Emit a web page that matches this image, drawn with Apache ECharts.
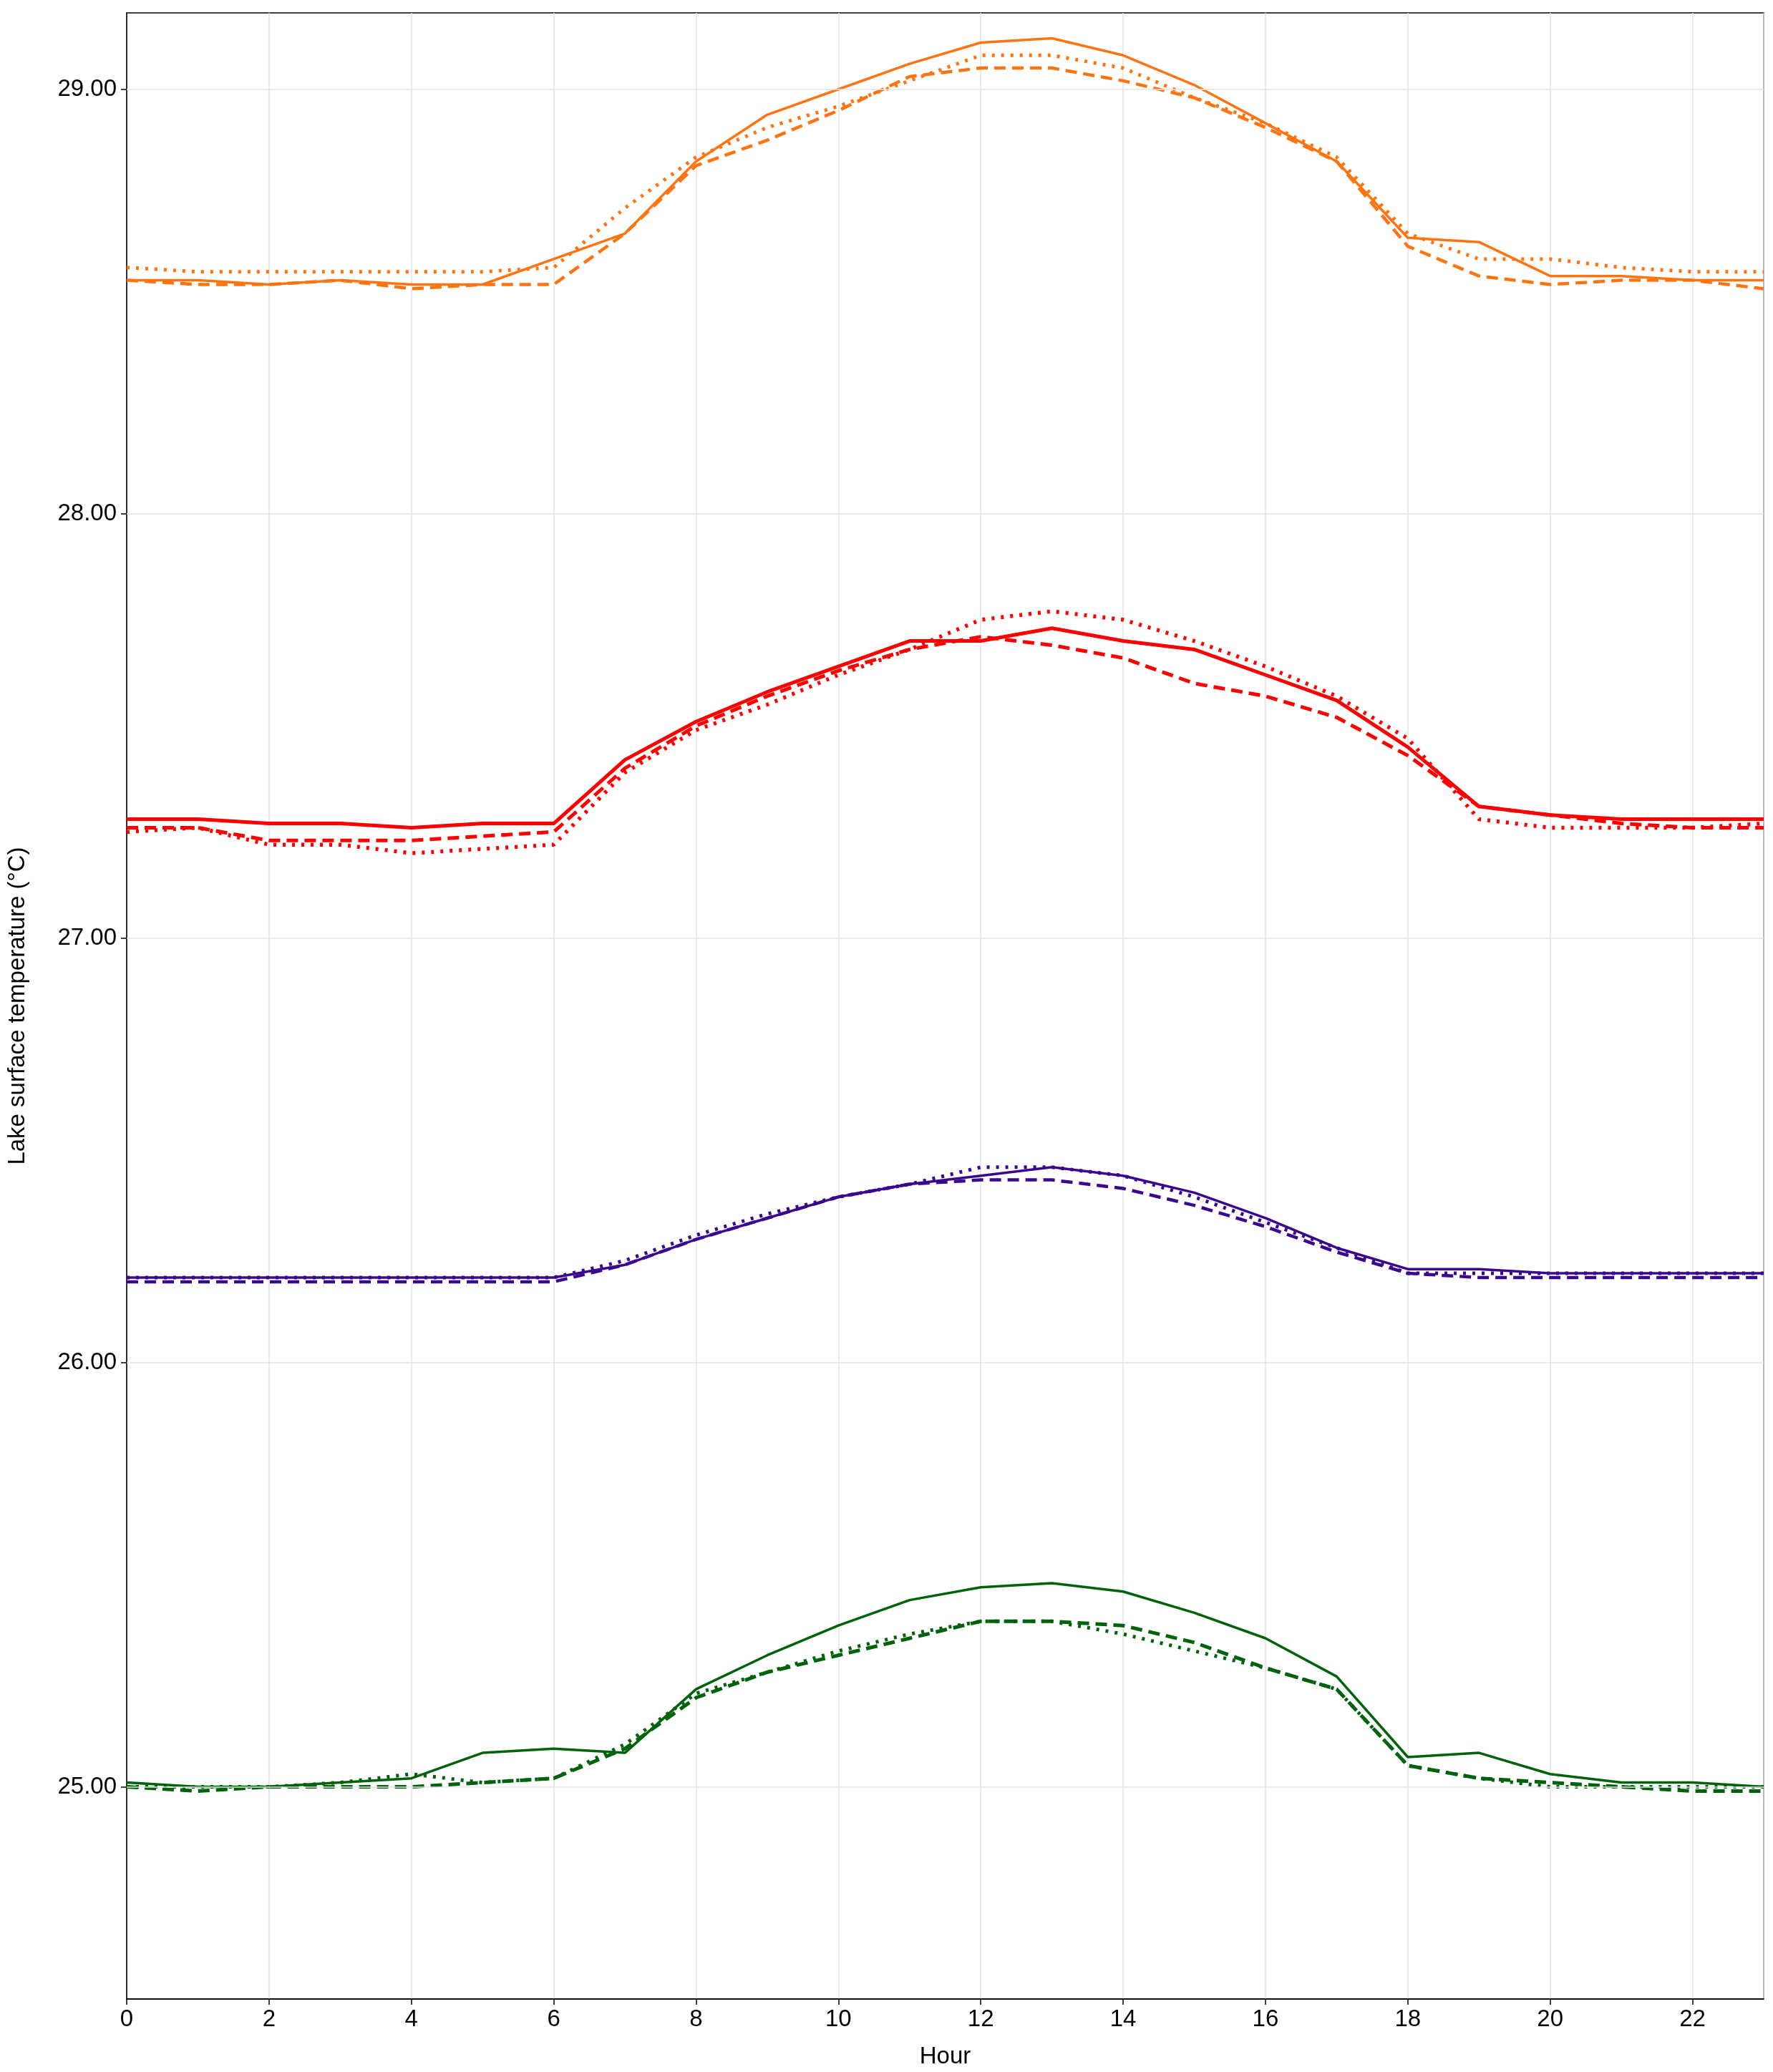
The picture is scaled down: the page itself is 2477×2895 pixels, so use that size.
<!DOCTYPE html>
<html><head><meta charset="utf-8">
<script src="https://cdn.jsdelivr.net/npm/echarts@6/dist/echarts.min.js"></script>
<style>html,body{margin:0;padding:0;background:#fff}#c{width:2477px;height:2895px}</style>
</head><body><div id="c"></div>
<script>
const hours = [0,1,2,3,4,5,6,7,8,9,10,11,12,13,14,15,16,17,18,19,20,21,22,23];
const yTicks = [25,26,27,28,29];
const orangeSolid = [28.55,28.55,28.54,28.55,28.54,28.54,28.60,28.66,28.83,28.94,29.00,29.06,29.11,29.12,29.08,29.01,28.92,28.83,28.65,28.64,28.56,28.56,28.55,28.55];
const orangeDashed = [28.55,28.54,28.54,28.55,28.53,28.54,28.54,28.66,28.82,28.88,28.95,29.03,29.05,29.05,29.02,28.98,28.91,28.83,28.63,28.56,28.54,28.55,28.55,28.53];
const orangeDotted = [28.58,28.57,28.57,28.57,28.57,28.57,28.58,28.72,28.84,28.91,28.96,29.02,29.08,29.08,29.05,28.98,28.92,28.84,28.66,28.60,28.60,28.58,28.57,28.57];
const redSolid = [27.28,27.28,27.27,27.27,27.26,27.27,27.27,27.42,27.51,27.58,27.64,27.70,27.70,27.73,27.70,27.68,27.62,27.56,27.45,27.31,27.29,27.28,27.28,27.28];
const redDashed = [27.26,27.26,27.23,27.23,27.23,27.24,27.25,27.40,27.50,27.57,27.63,27.68,27.71,27.69,27.66,27.60,27.57,27.52,27.43,27.31,27.29,27.27,27.26,27.26];
const redDotted = [27.25,27.26,27.22,27.22,27.20,27.21,27.22,27.39,27.49,27.55,27.62,27.68,27.75,27.77,27.75,27.70,27.64,27.57,27.47,27.28,27.26,27.26,27.26,27.27];
const purpleSolid = [26.20,26.20,26.20,26.20,26.20,26.20,26.20,26.23,26.29,26.34,26.39,26.42,26.44,26.46,26.44,26.40,26.34,26.27,26.22,26.22,26.21,26.21,26.21,26.21];
const purpleDashed = [26.19,26.19,26.19,26.19,26.19,26.19,26.19,26.23,26.29,26.34,26.39,26.42,26.43,26.43,26.41,26.37,26.32,26.26,26.21,26.20,26.20,26.20,26.20,26.20];
const purpleDotted = [26.20,26.20,26.20,26.20,26.20,26.20,26.20,26.24,26.30,26.35,26.39,26.42,26.46,26.46,26.44,26.39,26.33,26.27,26.21,26.21,26.21,26.21,26.21,26.21];
const greenSolid = [25.01,25.00,25.00,25.01,25.02,25.08,25.09,25.08,25.23,25.31,25.38,25.44,25.47,25.48,25.46,25.41,25.35,25.26,25.07,25.08,25.03,25.01,25.01,25.00];
const greenDashed = [25.00,24.99,25.00,25.00,25.00,25.01,25.02,25.09,25.21,25.27,25.31,25.35,25.39,25.39,25.38,25.34,25.28,25.23,25.05,25.02,25.01,25.00,24.99,24.99];
const greenDotted = [25.00,25.00,25.00,25.01,25.03,25.01,25.02,25.10,25.22,25.27,25.32,25.36,25.39,25.39,25.36,25.32,25.28,25.23,25.05,25.02,25.00,25.00,25.00,25.00];

const colors = {orange:'#ff7410', red:'#ff0000', purple:'#3a0890', green:'#00620a'};
function mk(data,color,style,w){
  let type = 'solid';
  if(style==='dashed') type=[16,9];
  if(style==='dotted') type=[4,9];
  return {type:'line',data:data.map((v,i)=>[hours[i],v]),showSymbol:false,symbol:'none',
    lineStyle:{color:color,width:w,type:type,cap:'butt'},z:3,animation:false};
}
const series = [
  mk(orangeSolid,colors.orange,'solid',3.5),mk(orangeDashed,colors.orange,'dashed',4.5),mk(orangeDotted,colors.orange,'dotted',5),
  mk(redSolid,colors.red,'solid',5),mk(redDashed,colors.red,'dashed',5),mk(redDotted,colors.red,'dotted',5.5),
  mk(purpleSolid,colors.purple,'solid',3.5),mk(purpleDashed,colors.purple,'dashed',4.5),mk(purpleDotted,colors.purple,'dotted',5),
  mk(greenSolid,colors.green,'solid',3.5),mk(greenDashed,colors.green,'dashed',5),mk(greenDotted,colors.green,'dotted',5),
  {type:'line',data:[],z:1,silent:true,markLine:{symbol:'none',silent:true,animation:false,label:{show:false},
    lineStyle:{color:'#e3e3e3',width:1.5,type:'solid'},data:yTicks.map(v=>({yAxis:v}))}}
];
const chart = echarts.init(document.getElementById('c'));
chart.setOption({
  animation:false,
  grid:{left:165,right:13,top:18,bottom:102,show:true,borderColor:'#000',borderWidth:1.5,backgroundColor:'#fff'},
  xAxis:{type:'value',min:0,max:23,interval:2,name:'Hour',nameLocation:'middle',nameGap:64,
    nameTextStyle:{fontSize:33,color:'#000',fontFamily:'Liberation Sans'},
    axisLine:{show:true,lineStyle:{color:'#000',width:1.5}},axisTick:{show:true,length:8,lineStyle:{color:'#000',width:1.5}},
    axisLabel:{fontSize:33,color:'#000',fontFamily:'Liberation Sans',margin:12,showMaxLabel:false},
    splitLine:{show:true,lineStyle:{color:'#e3e3e3',width:1.5}}},
  yAxis:{type:'value',min:24.5,max:29.18,name:'Lake surface temperature (°C)',nameLocation:'middle',nameGap:136,
    nameTextStyle:{fontSize:33,color:'#000',fontFamily:'Liberation Sans'},
    axisLine:{show:true,lineStyle:{color:'#000',width:1.5}},
    axisTick:{show:true,length:8,customValues:yTicks,lineStyle:{color:'#000',width:1.5}},
    axisLabel:{fontSize:33,color:'#000',fontFamily:'Liberation Sans',margin:14,customValues:yTicks,formatter:v=>v.toFixed(2)},
    splitLine:{show:false}},
  series:series
});
</script></body></html>
